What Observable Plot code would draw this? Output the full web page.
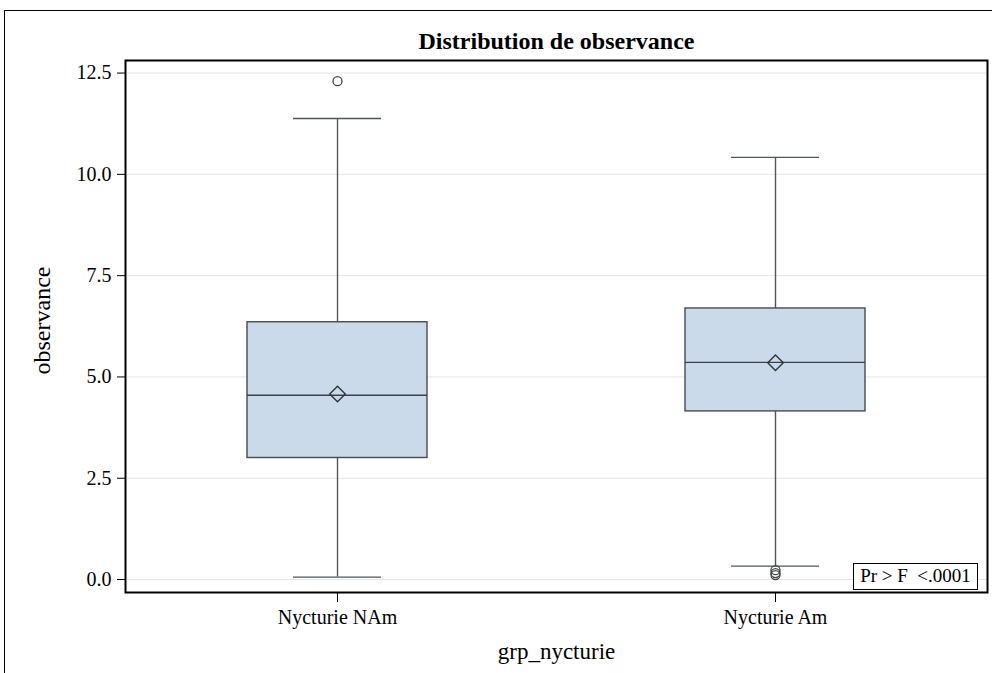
<!DOCTYPE html>
<html><head><meta charset="utf-8">
<script src="https://cdn.jsdelivr.net/npm/d3@7"></script>
<script src="https://cdn.jsdelivr.net/npm/@observablehq/plot@0.6"></script>
<style>
body{margin:0;background:#fff;}
#wrap{position:relative;width:992px;height:673px;overflow:hidden;font-family:"Liberation Serif","Times New Roman",serif;}
#border{position:absolute;left:4px;top:10px;width:1000px;height:700px;border-left:1.5px solid #000;border-top:1.5px solid #000;box-sizing:border-box;}
#chart{position:absolute;left:0;top:0;}
#chart svg, #chart svg text{font-family:"Liberation Serif","Times New Roman",serif;}
#stat{position:absolute;left:853px;top:563px;width:125px;height:27px;border:1.5px solid #000;box-sizing:border-box;background:#fff;font-size:19px;line-height:24px;text-align:center;white-space:pre;color:#000;}
</style></head>
<body><div id="wrap"><div id="border"></div><div id="chart"></div><div id="stat">Pr &gt; F  &lt;.0001</div></div>
<script>
const groups = ["Nycturie NAm", "Nycturie Am"];
const q1 = [3.0, 4.15];
const median = [4.55, 5.36];
const q3 = [6.35, 6.69];
const whiskerLow = [0.06, 0.33];
const whiskerHigh = [11.38, 10.42];
const mean = [4.58, 5.35];
const outlierGroup = ["Nycturie NAm", "Nycturie Am", "Nycturie Am", "Nycturie Am"];
const outlierValue = [12.3, 0.23, 0.16, 0.11];
const yTicks = [0, 2.5, 5, 7.5, 10, 12.5];
const titleText = "Distribution de observance";
const xLabel = "grp_nycturie";
const yLabel = "observance";

const boxes = groups.map((g, i) => ({group: g, q1: q1[i], median: median[i], q3: q3[i], lo: whiskerLow[i], hi: whiskerHigh[i], mean: mean[i]}));
const outliers = outlierGroup.map((g, i) => ({group: g, value: outlierValue[i]}));

const font = "Liberation Serif, Times New Roman, serif";
const chart = Plot.plot({
  width: 992, height: 673,
  marginLeft: 125, marginRight: 5, marginTop: 60, marginBottom: 81,
  style: {fontFamily: font, fontSize: "20px", background: "transparent", color: "#000", overflow: "visible"},
  x: {type: "band", domain: groups, paddingInner: 0.589, paddingOuter: 0.278, label: null, tickSize: 10, tickPadding: 7},
  y: {domain: [-0.32, 12.81], ticks: yTicks, tickFormat: d3.format(".1f"), label: null, tickSize: 8, tickPadding: 6},
  marks: [
    Plot.gridY(yTicks, {stroke: "#e6e6e6", strokeOpacity: 1, strokeWidth: 1}),
    Plot.ruleX(boxes, {x: "group", y1: "lo", y2: "q1", stroke: "#50565b", strokeWidth: 1.4}),
    Plot.ruleX(boxes, {x: "group", y1: "q3", y2: "hi", stroke: "#50565b", strokeWidth: 1.4}),
    Plot.tickY(boxes, {x: "group", y: "lo", insetLeft: 46, insetRight: 46, stroke: "#50565b", strokeWidth: 1.4}),
    Plot.tickY(boxes, {x: "group", y: "hi", insetLeft: 46, insetRight: 46, stroke: "#50565b", strokeWidth: 1.4}),
    Plot.barY(boxes, {x: "group", y1: "q1", y2: "q3", fill: "#cbdaeb", stroke: "#454c52", strokeWidth: 1.4}),
    Plot.tickY(boxes, {x: "group", y: "median", stroke: "#3a4046", strokeWidth: 1.4}),
    Plot.dot(boxes, {x: "group", y: "mean", symbol: "diamond2", r: 7, stroke: "#2f3438", strokeWidth: 1.4, fill: "none"}),
    Plot.dot(outliers, {x: "group", y: "value", r: 4.5, stroke: "#444", strokeWidth: 1.3, fill: "none"}),
    Plot.frame({stroke: "#000", strokeWidth: 2}),
    Plot.text([titleText], {frameAnchor: "top", lineAnchor: "middle", dy: -19, text: d => d, fontWeight: "bold", fontSize: 24, fill: "#000"}),
    Plot.text([yLabel], {frameAnchor: "left", textAnchor: "middle", lineAnchor: "middle", dx: -83, dy: -6, rotate: -90, text: d => d, fontSize: 24, fill: "#000"}),
    Plot.text([xLabel], {frameAnchor: "bottom", textAnchor: "middle", lineAnchor: "middle", dy: 59, text: d => d, fontSize: 23, fill: "#000"})
  ]
});
document.getElementById("chart").appendChild(chart);
</script>
</body></html>
